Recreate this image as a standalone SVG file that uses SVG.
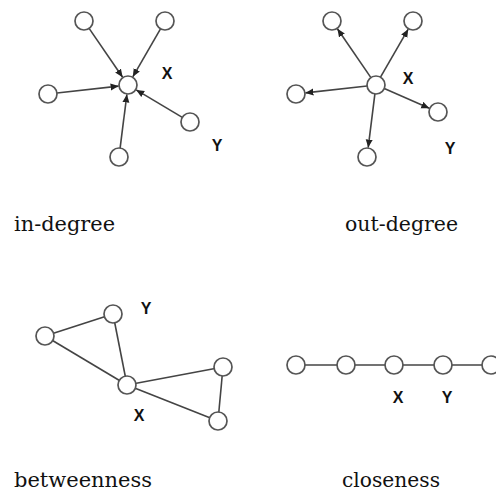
<svg xmlns="http://www.w3.org/2000/svg" width="496" height="495" viewBox="0 0 496 495">
<style>
.n{fill:#fff;stroke:#555;stroke-width:1.7}
.e{stroke:#444;stroke-width:1.6;fill:none}
.a{marker-end:url(#arr)}
.lbl{font-family:"Liberation Sans",Arial,sans-serif;font-weight:bold;font-size:16px;fill:#111;text-anchor:middle}
.cap{font-family:"DejaVu Serif","Liberation Serif",serif;font-size:20px;fill:#111}
</style>
<defs>
<marker id="arr" markerUnits="userSpaceOnUse" markerWidth="9" markerHeight="8" refX="8" refY="3.5" orient="auto">
<path d="M0,0 L8,3.5 L0,7 z" fill="#222"/>
</marker>
</defs>
<rect width="496" height="495" fill="#fff"/>
<g id="connectors">
<line class="e a" x1="89.1" y1="28.4" x2="122.6" y2="77.2"/>
<line class="e a" x1="160.5" y1="28.8" x2="132.8" y2="76.8"/>
<line class="e a" x1="57" y1="93" x2="118.6" y2="86.1"/>
<line class="e a" x1="182.3" y1="117.4" x2="136.2" y2="89.9"/>
<line class="e a" x1="120.1" y1="148.1" x2="126.9" y2="94.4"/>
<line class="e a" x1="370.9" y1="77.6" x2="337.4" y2="28.8"/>
<line class="e a" x1="380.5" y1="77.2" x2="408.2" y2="29.2"/>
<line class="e a" x1="367.1" y1="86" x2="305.4" y2="92.9"/>
<line class="e a" x1="384.3" y1="88.6" x2="429.3" y2="108.2"/>
<line class="e a" x1="374.9" y1="93.9" x2="368.2" y2="147.6"/>
<line class="e" x1="45" y1="336" x2="113" y2="314"/>
<line class="e" x1="45" y1="336" x2="127" y2="385"/>
<line class="e" x1="113" y1="314" x2="127" y2="385"/>
<line class="e" x1="127" y1="385" x2="223" y2="367"/>
<line class="e" x1="127" y1="385" x2="218" y2="421"/>
<line class="e" x1="223" y1="367" x2="218" y2="421"/>
<line class="e" x1="296" y1="365" x2="491" y2="365"/>
</g>
<g id="in-degree">
<circle class="n" cx="84" cy="21" r="9"/>
<circle class="n" cx="165" cy="21" r="9"/>
<circle class="n" cx="128" cy="85" r="9"/>
<circle class="n" cx="48" cy="94" r="9"/>
<circle class="n" cx="190" cy="122" r="9"/>
<circle class="n" cx="119" cy="157" r="9"/>
<text class="lbl" x="167" y="79">X</text>
<text class="lbl" x="217" y="151">Y</text>
<text class="cap" x="14" y="231" textLength="101" lengthAdjust="spacingAndGlyphs">in-degree</text>
</g>
<g id="out-degree">
<circle class="n" cx="332" cy="21" r="9"/>
<circle class="n" cx="413" cy="21" r="9"/>
<circle class="n" cx="376" cy="85" r="9"/>
<circle class="n" cx="296" cy="94" r="9"/>
<circle class="n" cx="438" cy="112" r="9"/>
<circle class="n" cx="367" cy="157" r="9"/>
<text class="lbl" x="408" y="84">X</text>
<text class="lbl" x="450" y="154">Y</text>
<text class="cap" x="345" y="231" textLength="113" lengthAdjust="spacingAndGlyphs">out-degree</text>
</g>
<g id="betweenness">
<circle class="n" cx="45" cy="336" r="9"/>
<circle class="n" cx="113" cy="314" r="9"/>
<circle class="n" cx="127" cy="385" r="9"/>
<circle class="n" cx="223" cy="367" r="9"/>
<circle class="n" cx="218" cy="421" r="9"/>
<text class="lbl" x="146" y="314">Y</text>
<text class="lbl" x="139" y="421">X</text>
<text class="cap" x="14" y="487" textLength="138" lengthAdjust="spacingAndGlyphs">betweenness</text>
</g>
<g id="closeness">
<circle class="n" cx="296" cy="365" r="9"/>
<circle class="n" cx="346" cy="365" r="9"/>
<circle class="n" cx="394" cy="365" r="9"/>
<circle class="n" cx="443" cy="365" r="9"/>
<circle class="n" cx="491" cy="365" r="9"/>
<text class="lbl" x="398" y="403">X</text>
<text class="lbl" x="447" y="403">Y</text>
<text class="cap" x="342" y="487" textLength="98" lengthAdjust="spacingAndGlyphs">closeness</text>
</g>
</svg>
